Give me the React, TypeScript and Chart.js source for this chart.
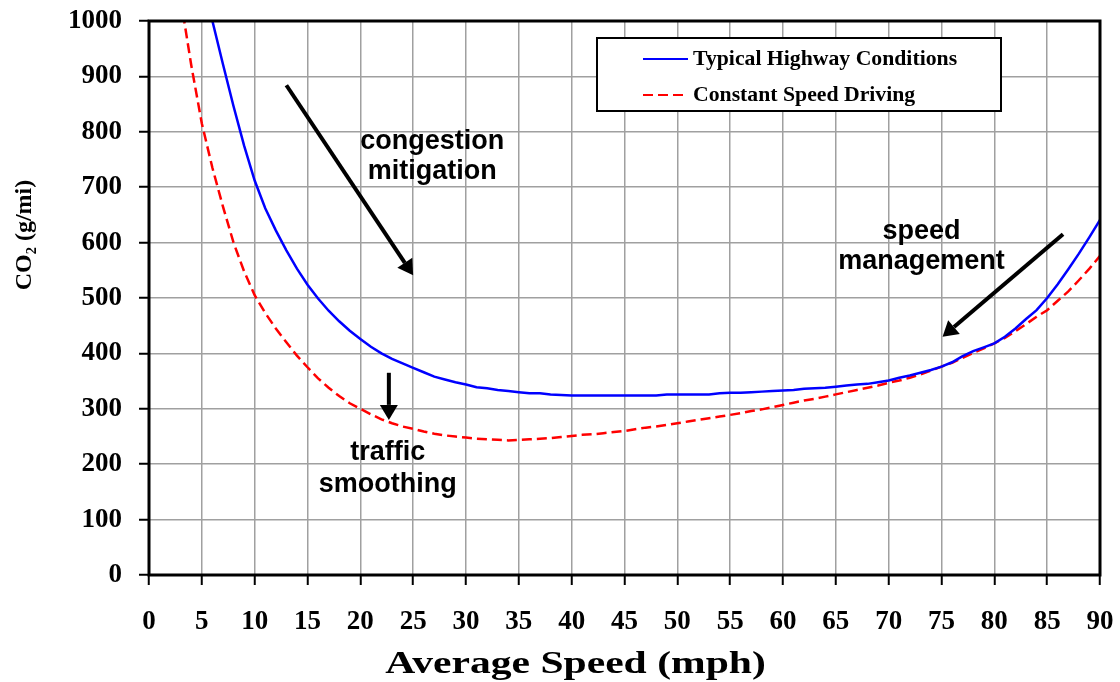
import React, { useEffect, useRef } from "react";
import { Chart, registerables } from "chart.js";

Chart.register(...registerables);

// ---- data ----
const speeds = [
  3, 4, 5, 6, 7, 8, 9, 10, 11, 12, 13, 14, 15, 16, 17, 18, 19, 20, 21, 22, 23, 24, 25, 26, 27, 28, 29, 30,
  31, 32, 33, 34, 35, 36, 37, 38, 39, 40, 41, 42, 43, 44, 45, 46, 47, 48, 49, 50, 51, 52, 53, 54, 55, 56, 57,
  58, 59, 60, 61, 62, 63, 64, 65, 66, 67, 68, 69, 70, 71, 72, 73, 74, 75, 76, 77, 78, 79, 80, 81, 82, 83, 84,
  85, 86, 87, 88, 89, 90,
];

const typicalHighway: (number | null)[] = [
  null, null, null, 1000, 922, 846, 775, 712, 662, 622, 586, 553, 524, 499, 477, 458, 441, 426, 412, 400, 390,
  382, 374, 366, 358, 353, 348, 344, 339, 337, 334, 332, 330, 328, 328, 326, 325, 324, 324, 324, 324, 324, 324,
  324, 324, 324, 326, 326, 326, 326, 326, 328, 329, 329, 330, 331, 332, 333, 334, 336, 337, 338, 340, 342, 344,
  345, 348, 351, 356, 360, 365, 370, 376, 384, 395, 404, 411, 418, 430, 445, 462, 478, 500, 525, 552, 580, 610,
  641,
];

const constantSpeed: (number | null)[] = [
  1040, 920, 815, 735, 665, 600, 548, 505, 473, 445, 420, 396, 375, 355, 338, 323, 310, 300, 290, 281, 274, 268,
  264, 259, 255, 252, 250, 248, 246, 245, 244, 243, 244, 245, 246, 247, 249, 251, 253, 254, 256, 258, 260, 263,
  266, 268, 271, 274, 277, 280, 283, 286, 289, 292, 296, 299, 303, 307, 311, 315, 318, 322, 326, 330, 334, 338,
  342, 347, 351, 356, 362, 369, 376, 383, 392, 401, 409, 418, 428, 440, 453, 466, 478, 495, 512, 532, 553, 576,
];

const seriesLabels = ["Typical Highway Conditions", "Constant Speed Driving"];
const xTitle = "Average Speed (mph)";
const yTitle = "CO\u2082 (g/mi)";

// annotations (in data units)
const arrows = [
  { from: [13, 884], to: [25, 541] },
  { from: [22.7, 365], to: [22.7, 280] },
  { from: [86.5, 615], to: [75.1, 430] },
];
const notes = [
  { x: 26.8, y: [782, 728], lines: ["congestion", "mitigation"] },
  { x: 22.6, y: [221, 163], lines: ["traffic", "smoothing"] },
  { x: 73.1, y: [620, 566], lines: ["speed", "management"] },
];

const SERIF = "'Liberation Serif', 'Times New Roman', serif";
const SANS = "'Liberation Sans', Arial, sans-serif";

const decorPlugin = {
  id: "decor",
  afterDraw(chart: any) {
    const { ctx, chartArea: ca, scales } = chart;
    const xs = scales.x;
    const ys = scales.y;
    ctx.save();

    // frame
    ctx.strokeStyle = "#000";
    ctx.lineWidth = 3;
    ctx.strokeRect(ca.left, ca.top, ca.right - ca.left, ca.bottom - ca.top);

    // arrows
    ctx.fillStyle = "#000";
    arrows.forEach((a) => {
      const x1 = xs.getPixelForValue(a.from[0]);
      const y1 = ys.getPixelForValue(a.from[1]);
      const x2 = xs.getPixelForValue(a.to[0]);
      const y2 = ys.getPixelForValue(a.to[1]);
      const ang = Math.atan2(y2 - y1, x2 - x1);
      const headLen = 15;
      const headHalf = 9;
      const bx = x2 - headLen * Math.cos(ang);
      const by = y2 - headLen * Math.sin(ang);
      ctx.beginPath();
      ctx.lineWidth = 4;
      ctx.strokeStyle = "#000";
      ctx.moveTo(x1, y1);
      ctx.lineTo(bx, by);
      ctx.stroke();
      ctx.beginPath();
      ctx.moveTo(x2, y2);
      ctx.lineTo(bx + headHalf * Math.sin(ang), by - headHalf * Math.cos(ang));
      ctx.lineTo(bx - headHalf * Math.sin(ang), by + headHalf * Math.cos(ang));
      ctx.closePath();
      ctx.fill();
    });

    // notes
    ctx.font = `bold 27px ${SANS}`;
    ctx.textAlign = "center";
    ctx.textBaseline = "middle";
    notes.forEach((n) => {
      const x = xs.getPixelForValue(n.x);
      n.lines.forEach((t, i) => {
        ctx.fillText(t, x, ys.getPixelForValue(n.y[i]));
      });
    });

    // legend box
    const lx = ca.left + 448;
    const ly = ca.top + 17;
    const lw = 404;
    const lh = 73;
    ctx.fillStyle = "#fff";
    ctx.fillRect(lx, ly, lw, lh);
    ctx.strokeStyle = "#000";
    ctx.lineWidth = 2;
    ctx.strokeRect(lx, ly, lw, lh);
    ctx.font = `bold 21px ${SERIF}`;
    ctx.textAlign = "left";
    ctx.textBaseline = "middle";
    chart.data.datasets.forEach((ds: any, i: number) => {
      const ry = ly + 21 + i * 36;
      ctx.beginPath();
      ctx.strokeStyle = ds.borderColor;
      ctx.lineWidth = 2;
      ctx.setLineDash(ds.borderDash || []);
      ctx.moveTo(lx + 46, ry);
      ctx.lineTo(lx + 91, ry);
      ctx.stroke();
      ctx.setLineDash([]);
      ctx.fillStyle = "#000";
      ctx.save();
      ctx.translate(lx + 96, ry + 1);
      ctx.scale(1.035, 1);
      ctx.fillText(ds.label, 0, 0);
      ctx.restore();
    });

    // axis titles
    ctx.fillStyle = "#000";
    ctx.textAlign = "center";
    ctx.textBaseline = "middle";
    ctx.save();
    ctx.translate((ca.left + ca.right) / 2 - 49, ca.bottom + 90);
    ctx.scale(1.3, 1);
    ctx.font = `bold 32px ${SERIF}`;
    ctx.fillText(xTitle, 0, 0);
    ctx.restore();
    ctx.save();
    ctx.translate(ca.left - 124, (ca.top + ca.bottom) / 2 - 63);
    ctx.rotate(-Math.PI / 2);
    ctx.font = `bold 24px ${SERIF}`;
    ctx.fillText(yTitle, 0, 0);
    ctx.restore();

    ctx.restore();
  },
};

export default function App() {
  const ref = useRef<HTMLCanvasElement>(null);

  useEffect(() => {
    if (!ref.current) return;
    const toPts = (arr: (number | null)[]) => speeds.map((s, i) => ({ x: s, y: arr[i] }));
    const chart = new Chart(ref.current, {
      type: "line",
      data: {
        datasets: [
          {
            label: seriesLabels[0],
            data: toPts(typicalHighway) as any,
            borderColor: "#0000ff",
            borderWidth: 2.5,
            pointRadius: 0,
            tension: 0,
            fill: false,
          },
          {
            label: seriesLabels[1],
            data: toPts(constantSpeed) as any,
            borderColor: "#ff0000",
            borderWidth: 2.5,
            borderDash: [10, 5],
            pointRadius: 0,
            tension: 0,
            fill: false,
          },
        ],
      },
      options: {
        responsive: false,
        animation: false,
        devicePixelRatio: 1,
        layout: { padding: { top: 21, right: 20, left: 0, bottom: 0 } },
        plugins: {
          legend: { display: false },
          tooltip: { enabled: false },
        },
        scales: {
          x: {
            type: "linear",
            min: 0,
            max: 90,
            afterFit: (s: any) => {
              s.height = 107;
              s.paddingLeft = 0;
              s.paddingRight = 0;
            },
            ticks: {
              stepSize: 5,
              color: "#000",
              padding: 21,
              maxRotation: 0,
              font: { family: SERIF, size: 27, weight: "bold" },
              callback: (v: any) => String(v),
            },
            grid: {
              color: "#a0a0a0",
              lineWidth: 1.5,
              drawTicks: true,
              tickLength: 10,
              tickColor: "#000",
              tickWidth: 2,
            },
            border: { display: false },
            title: { display: false },
          },
          y: {
            type: "linear",
            min: 0,
            max: 1000,
            afterFit: (s: any) => {
              s.width = 149;
              s.paddingTop = 0;
              s.paddingBottom = 0;
            },
            ticks: {
              stepSize: 100,
              color: "#000",
              padding: 17,
              font: { family: SERIF, size: 27, weight: "bold" },
              callback: (v: any) => String(v),
            },
            grid: {
              color: "#a0a0a0",
              lineWidth: 1.5,
              drawTicks: true,
              tickLength: 10,
              tickColor: "#000",
              tickWidth: 2,
            },
            border: { display: false },
            title: { display: false },
          },
        },
      },
      plugins: [decorPlugin],
    });
    return () => chart.destroy();
  }, []);

  return (
    <div style={{ position: "fixed", left: 0, top: 0, width: 1120, height: 682, background: "#fff" }}>
      <canvas ref={ref} width={1120} height={682} />
    </div>
  );
}
